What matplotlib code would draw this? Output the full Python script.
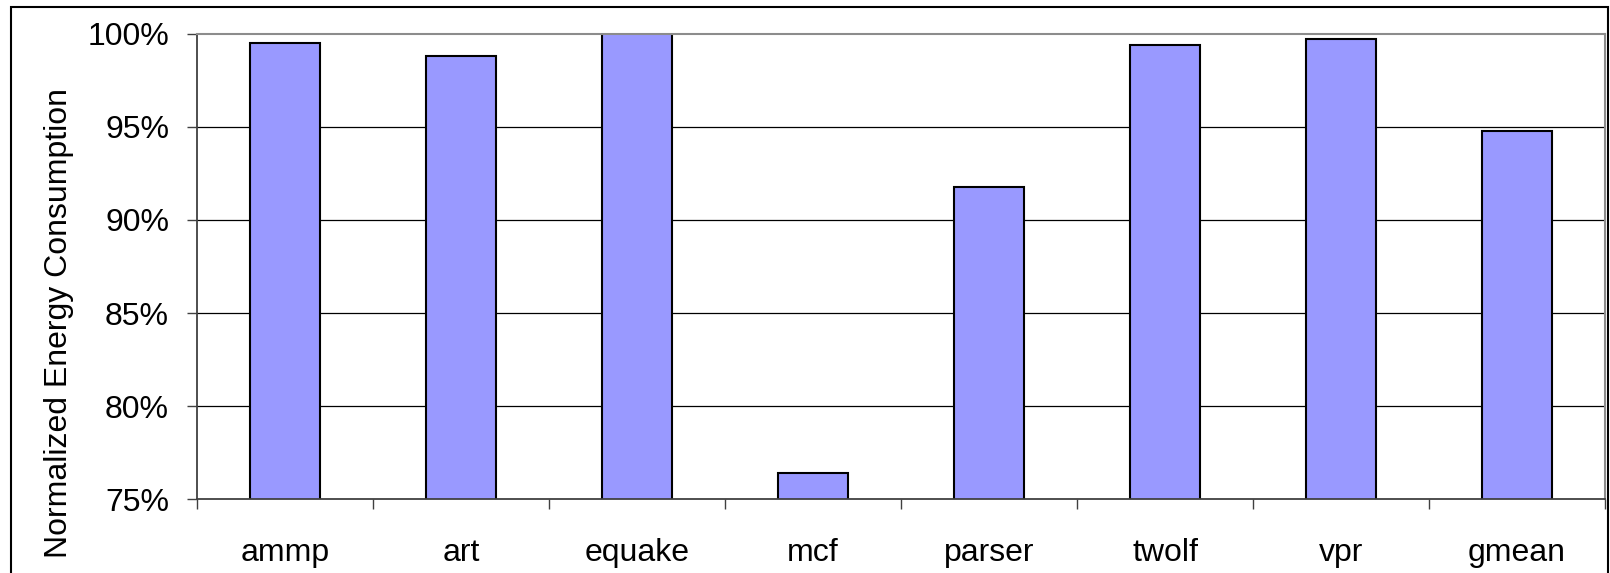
import matplotlib
matplotlib.use("Agg")
import matplotlib.pyplot as plt
from matplotlib.patches import Rectangle
import numpy as np

# Benchmarks and normalized energy (percent of baseline)
benchmarks = ["ammp", "art", "equake", "mcf", "parser", "twolf", "vpr", "gmean"]
energy_pct = [99.5, 98.8, 100.3, 76.4, 91.8, 99.4, 99.75, 94.8]
y_ticks = [75, 80, 85, 90, 95, 100]
y_label = "Normalized Energy Consumption"

plt.rcParams["font.family"] = ["Liberation Sans", "DejaVu Sans"]
FS = 23

fig = plt.figure(figsize=(16.1, 5.73), dpi=100)
ax = fig.add_axes([0.1224, 0.1291, 0.9969 - 0.1224, 0.9407 - 0.1291])

x = np.arange(len(benchmarks))
ax.bar(x, energy_pct, width=0.4, color="#9999FF", edgecolor="#000000",
       linewidth=1.5, zorder=3)

ax.set_ylim(75, 100)
ax.set_xlim(-0.5, len(benchmarks) - 0.5)

# Horizontal gridlines at the inner ticks
for v in y_ticks[1:-1]:
    ax.axhline(v, color="#000000", linewidth=0.9, zorder=1)

ax.set_yticks(y_ticks)
ax.set_yticklabels([f"{v}%" for v in y_ticks], fontsize=FS)
ax.tick_params(axis="y", direction="out", length=7.2, width=1.0,
               color="#404040", pad=13)

# Category labels centred under the bars, ticks on category boundaries
ax.set_xticks(np.arange(-0.5, len(benchmarks)), minor=False)
ax.set_xticklabels([])
ax.set_xticks(x, minor=True)
ax.set_xticklabels(benchmarks, minor=True, fontsize=FS)
ax.tick_params(axis="x", which="major", direction="out", length=7.5,
               width=1.0, color="#404040")
ax.tick_params(axis="x", which="minor", length=0, pad=28)

ax.spines["left"].set_color("#404040")
ax.spines["left"].set_linewidth(1.3)
ax.spines["bottom"].set_color("#404040")
ax.spines["bottom"].set_linewidth(1.3)
ax.spines["top"].set_color("#8c8c8c")
ax.spines["top"].set_linewidth(1.5)
ax.spines["right"].set_color("#8c8c8c")
ax.spines["right"].set_linewidth(1.5)
for s in ax.spines.values():
    s.set_zorder(4)

fig.text(0.0366, 0.436, y_label, rotation=90, fontsize=FS,
         ha="center", va="center")

# Outer chart frame
W, H = 1610, 573
frame = Rectangle((11 / W, -0.05), (1608 - 11) / W, 1 - 7 / H + 0.05,
                  transform=fig.transFigure, fill=False,
                  edgecolor="#000000", linewidth=1.5, clip_on=False)
fig.patches.append(frame)

fig.savefig("out.png", dpi=100)
